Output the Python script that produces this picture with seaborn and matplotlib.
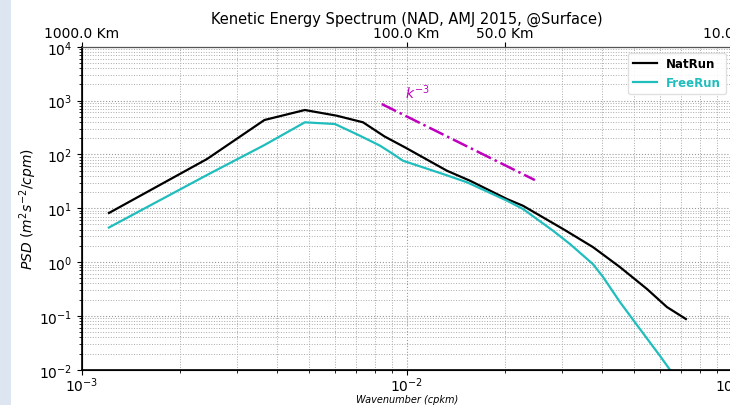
import numpy as np
import pandas as pd
import matplotlib
matplotlib.use("Agg")
import matplotlib.pyplot as plt
import seaborn as sns
from matplotlib.ticker import NullLocator, FixedLocator
from matplotlib.patches import Rectangle

# ---- data ----
nat_k = [1.213e-3, 2.43e-3, 3.65e-3, 4.86e-3, 6.10e-3, 7.34e-3, 8.55e-3, 9.88e-3,
         1.33e-2, 1.566e-2, 2.035e-2, 2.28e-2, 3.03e-2, 3.74e-2, 4.53e-2, 5.49e-2,
         6.32e-2, 7.23e-2]
nat_psd = [8.15, 82, 435, 667, 522, 394, 215, 135,
           49.7, 32.4, 14.8, 11.1, 4.10, 1.90, 0.807, 0.315,
           0.146, 0.0875]

free_k = [1.213e-3, 2.43e-3, 3.65e-3, 4.86e-3, 6.02e-3, 7.18e-3, 8.28e-3, 9.07e-3,
          9.74e-3, 1.293e-2, 1.533e-2, 2.035e-2, 2.28e-2, 2.82e-2, 3.18e-2, 3.74e-2,
          4.02e-2, 4.53e-2, 5.22e-2, 6.02e-2, 6.60e-2]
free_psd = [4.38, 41.4, 149, 394, 366, 222, 145, 102,
            76.2, 43.2, 30.3, 13.8, 9.66, 3.82, 2.16, 0.918,
            0.527, 0.181, 0.057, 0.018, 0.0083]

slope_k = [8.38e-3, 2.48e-2]
slope_psd = [862, 33.3]

top_ticks = [1e-3, 1e-2, 2e-2, 1e-1]
top_labels = ["1000.0 Km", "100.0 Km", "50.0 Km", "10.0 Km"]

nat = pd.DataFrame({"k": nat_k, "psd": nat_psd})
free = pd.DataFrame({"k": free_k, "psd": free_psd})
slope = pd.DataFrame({"k": slope_k, "psd": slope_psd})

plt.rcParams["font.family"] = ["DejaVu Sans"]

fig = plt.figure(figsize=(7.30, 4.06), dpi=100)
fig.patches.append(Rectangle((0, 0), 11 / 730, 1, transform=fig.transFigure,
                             facecolor="#dce5f0", edgecolor="none", zorder=0))
ax = fig.add_axes([0.1119, 0.0869, 0.8904, 0.7956])
ax.set_xscale("log")
ax.set_yscale("log")

sns.lineplot(data=nat, x="k", y="psd", ax=ax, color="black", lw=1.6,
             label="NatRun", sort=False)
sns.lineplot(data=free, x="k", y="psd", ax=ax, color="#20bdbd", lw=1.6,
             label="FreeRun", sort=False)
sns.lineplot(data=slope, x="k", y="psd", ax=ax, color="#bf00bf", lw=1.8,
             linestyle="-.", sort=False, legend=False)

ax.text(1.076e-2, 1440, r"$k^{-3}$", color="#bf00bf", fontsize=10,
        ha="center", va="center")

ax.set_xlim(1e-3, 1e-1)
ax.set_ylim(1e-2, 1e4)
ax.grid(True, which="major", linestyle=":", color="#999999", lw=0.8)
ax.grid(True, which="minor", linestyle=":", color="#aaaaaa", lw=0.7)
ax.set_axisbelow(True)

ax.set_xlabel("Wavenumber (cpkm)", fontsize=7, style="italic")
ax.xaxis.set_label_coords(0.5, -0.074)
ax.set_ylabel(r"$PSD\ (m^2s^{-2}/cpm)$", fontsize=10, labelpad=0)
ax.tick_params(axis="both", which="major", labelsize=10)
ax.tick_params(axis="x", which="major", pad=0.5)
for s in ["left", "bottom"]:
    ax.spines[s].set_color("black")
    ax.spines[s].set_linewidth(1.2)

leg = ax.legend(loc="upper right", prop={"weight": "bold", "size": 8.5},
                frameon=True, framealpha=0.9, edgecolor="#dddddd",
                handlelength=2.0)
for txt, ln in zip(leg.get_texts(), leg.get_lines()):
    txt.set_color(ln.get_color())

ax2 = ax.twiny()
ax2.set_xscale("log")
ax2.set_xlim(ax.get_xlim())
ax2.xaxis.set_major_locator(FixedLocator(top_ticks))
ax2.xaxis.set_minor_locator(NullLocator())
ax2.set_xticklabels(top_labels, fontsize=10)
ax2.tick_params(axis="x", pad=1)
ax2.spines["top"].set_color("#555555")

ax2.set_title("Kenetic Energy Spectrum (NAD, AMJ 2015, @Surface)",
              fontsize=10.5, pad=2)

fig.savefig("out.png", dpi=100)
